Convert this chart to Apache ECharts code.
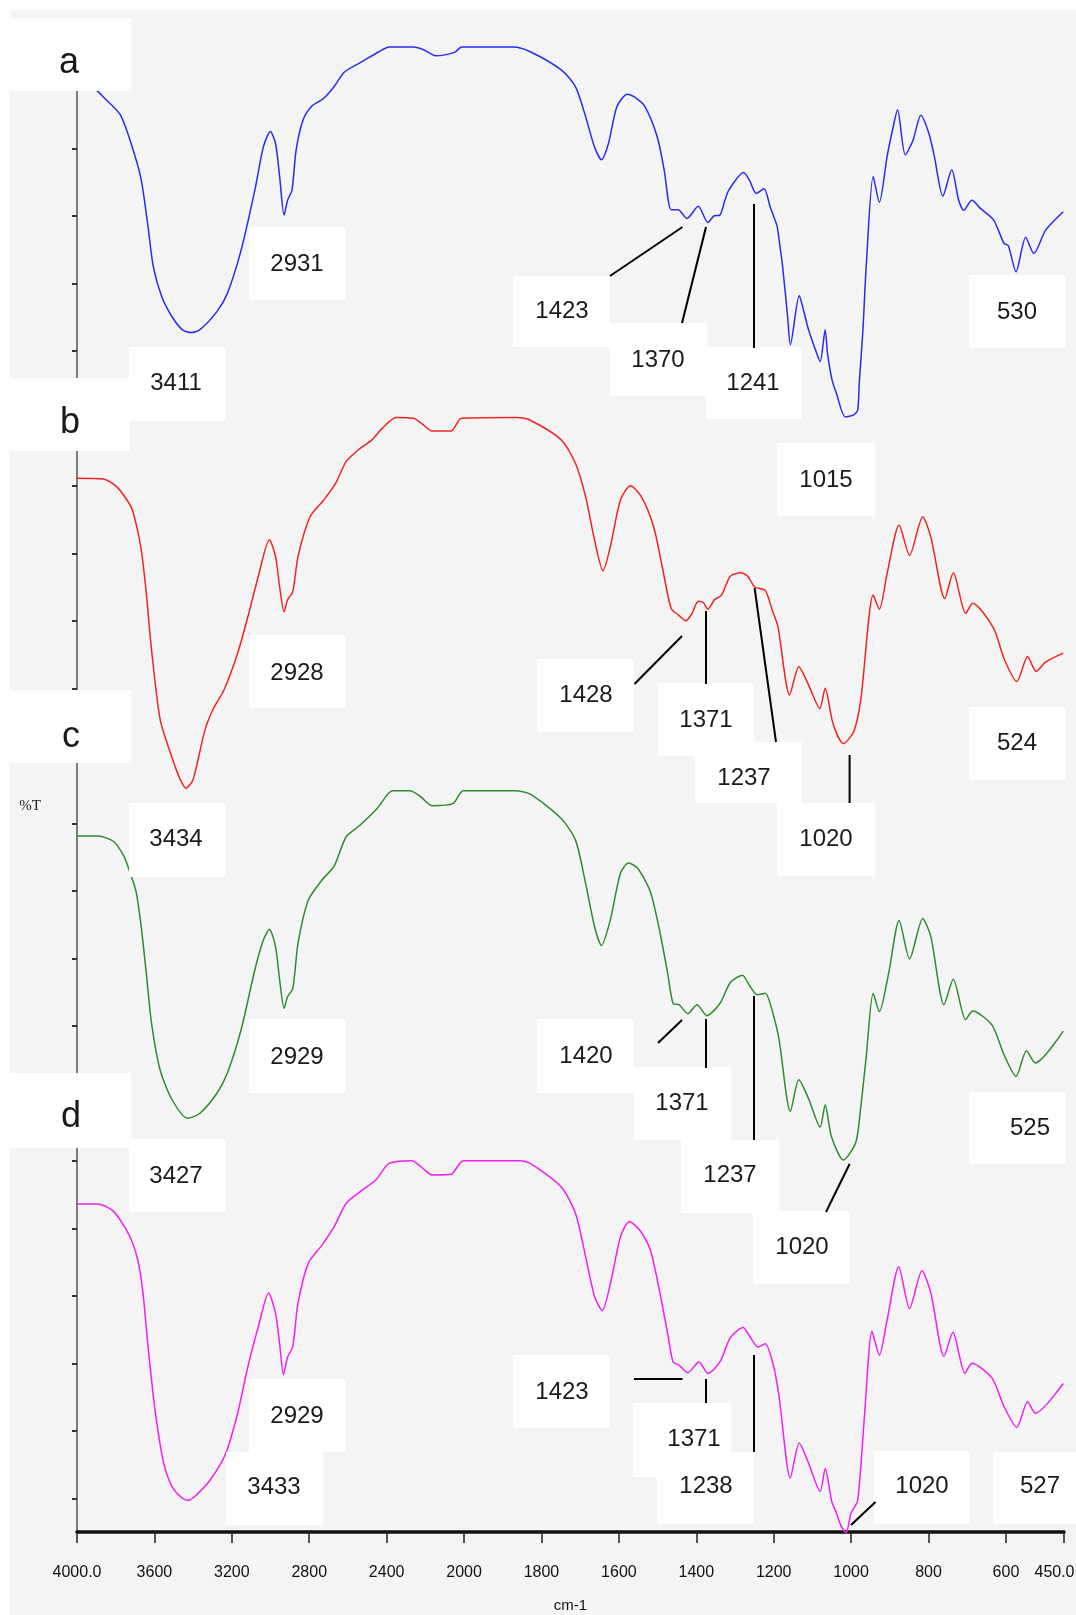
<!DOCTYPE html>
<html>
<head>
<meta charset="utf-8">
<script src="https://cdn.jsdelivr.net/npm/echarts@6/dist/echarts.min.js"></script>
<style>
html,body{margin:0;padding:0;background:#ffffff;}
#chart{width:1076px;height:1615px;}
</style>
</head>
<body>
<div id="chart"></div>
<script>
// ---------- DATA (wavenumber cm-1, %T) ----------
const xTickWavenumbers = [4000, 3600, 3200, 2800, 2400, 2000, 1800, 1600, 1400, 1200, 1000, 800, 600, 450];
const yTickValues = [0,10,20,30,40,50,60,70,80,90,100,110,120,130,140,150,160,170,180,190,200,210];
const seriesNames = ['a', 'b', 'c', 'd'];

const spectrumA = [[4000,50.8],[3950,49.5],[3900,48.6],[3864,47.6],[3775,44.9],[3704,39.2],[3668,35.3],[3633,28.4],[3606,22.5],[3562,18.0],[3508,15.0],[3455,13.1],[3410,12.7],[3366,13.1],[3277,15.8],[3223,18.5],[3152,24.9],[3081,33.8],[3037,40.2],[3001,42.5],[2974,40.7],[2953,35.8],[2930,30.1],[2912,32.3],[2889,33.8],[2868,39.7],[2832,44.2],[2788,46.2],[2725,47.4],[2672,49.1],[2618,51.3],[2529,52.8],[2440,54.3],[2387,55.0],[2262,55.0],[2209,54.6],[2147,53.7],[2049,54.2],[2013,55.0],[1873,55.0],[1829,54.3],[1749,51.6],[1712,49.1],[1686,44.7],[1663,40.2],[1645,38.3],[1627,40.7],[1605,46.2],[1578,48.0],[1560,47.6],[1533,46.2],[1501,41.7],[1483,36.8],[1465,30.9],[1447,30.9],[1424,29.6],[1395,31.4],[1370,29.0],[1354,30.0],[1339,30.1],[1326,32.3],[1316,33.8],[1278,36.4],[1263,35.3],[1245,33.3],[1225,34.0],[1209,31.3],[1200,29.9],[1191,28.4],[1186,26.4],[1177,22.5],[1164,15.0],[1157,10.9],[1134,18.2],[1123,16.0],[1110,13.1],[1092,10.1],[1080,8.4],[1067,13.1],[1061,9.6],[1049,5.6],[1038,3.7],[1015,0.2],[993,0.5],[983,1.2],[979,5.2],[970,12.6],[961,22.5],[943,35.8],[927,32.0],[907,38.8],[893,42.7],[880,45.7],[860,39.0],[840,41.2],[820,44.9],[799,42.2],[785,38.8],[763,32.9],[740,36.8],[722,32.3],[709,30.8],[688,32.3],[666,31.1],[632,29.4],[605,25.9],[594,25.6],[574,21.7],[549,26.8],[528,24.4],[497,27.9],[452,30.6]];

const spectrumB = [[4000,46.1],[3864,46.0],[3793,44.8],[3721,41.9],[3695,39.4],[3668,35.5],[3642,29.1],[3615,20.7],[3570,10.3],[3517,5.4],[3473,1.9],[3437,0.2],[3401,1.4],[3339,8.8],[3295,12.0],[3241,14.7],[3170,20.2],[3117,25.6],[3063,31.6],[3006,37.0],[2974,34.5],[2953,30.0],[2930,26.3],[2912,28.1],[2885,29.3],[2858,34.5],[2796,40.4],[2725,42.9],[2663,45.4],[2609,48.6],[2547,50.3],[2476,51.8],[2423,53.5],[2351,55.1],[2262,55.0],[2218,54.2],[2164,53.1],[2067,53.1],[2013,55.0],[1864,55.1],[1829,54.7],[1749,51.8],[1712,48.3],[1686,43.4],[1663,37.0],[1641,32.4],[1622,36.0],[1596,42.9],[1570,45.0],[1542,43.4],[1510,38.9],[1488,33.0],[1465,26.8],[1447,25.9],[1427,25.0],[1411,26.1],[1395,27.9],[1382,27.7],[1370,26.7],[1353,28.1],[1335,28.8],[1312,31.6],[1285,32.1],[1267,31.6],[1249,30.0],[1222,29.5],[1204,26.6],[1189,24.1],[1159,14.0],[1135,18.2],[1110,15.5],[1081,12.0],[1067,15.0],[1047,9.8],[1020,6.8],[993,8.6],[975,13.3],[943,28.8],[927,26.7],[907,32.0],[876,39.2],[849,34.7],[815,40.4],[794,37.4],[758,28.3],[736,32.1],[704,26.1],[686,27.6],[632,23.9],[605,19.4],[572,16.0],[544,19.7],[522,17.5],[497,18.9],[452,20.2]];

const spectrumC = [[4000,48.1],[3891,48.1],[3811,47.3],[3757,45.1],[3731,43.1],[3695,39.9],[3668,34.6],[3642,27.8],[3615,20.4],[3570,13.4],[3508,9.0],[3428,6.3],[3366,7.0],[3277,10.0],[3223,13.0],[3152,19.4],[3081,28.3],[3037,32.7],[3006,34.3],[2974,31.7],[2953,26.8],[2930,22.6],[2912,24.3],[2885,25.5],[2858,32.2],[2805,38.6],[2734,41.6],[2672,43.6],[2609,48.0],[2538,49.7],[2449,52.2],[2369,54.8],[2280,54.8],[2227,54.0],[2164,52.6],[2058,52.9],[2004,54.8],[1869,54.8],[1829,54.3],[1749,50.7],[1712,47.5],[1686,41.1],[1663,34.7],[1645,31.9],[1622,35.7],[1596,42.6],[1575,44.1],[1551,43.3],[1519,39.9],[1497,34.7],[1474,27.8],[1460,23.3],[1444,23.1],[1422,21.8],[1398,23.1],[1373,21.5],[1339,23.3],[1312,26.4],[1281,27.5],[1263,26.0],[1243,24.6],[1222,24.8],[1200,21.4],[1186,17.9],[1157,7.3],[1135,12.0],[1110,9.2],[1080,5.0],[1067,8.3],[1051,3.6],[1020,0.1],[988,2.7],[975,8.0],[961,15.4],[943,24.8],[927,22.1],[903,27.8],[876,35.6],[849,29.9],[815,35.9],[794,33.2],[760,23.1],[736,26.9],[704,20.9],[686,22.2],[636,20.1],[605,15.7],[574,12.5],[547,16.3],[524,14.5],[452,19.2]];

const spectrumD = [[4000,48.6],[3891,48.6],[3811,47.5],[3731,44.0],[3686,40.3],[3659,35.4],[3633,27.5],[3597,18.1],[3552,10.2],[3508,6.7],[3455,5.0],[3423,4.7],[3383,5.5],[3312,7.7],[3232,11.6],[3170,17.6],[3117,24.5],[3063,30.4],[3010,35.4],[2974,32.4],[2953,27.9],[2933,23.3],[2912,25.9],[2885,27.5],[2858,33.9],[2805,39.8],[2734,42.5],[2672,45.2],[2609,48.7],[2538,50.4],[2458,52.1],[2387,54.6],[2271,55.0],[2218,54.0],[2164,52.9],[2067,53.0],[2004,55.0],[1855,55.0],[1829,54.6],[1749,51.1],[1712,47.2],[1686,40.8],[1663,34.9],[1643,32.8],[1620,37.3],[1596,43.7],[1573,46.0],[1546,44.7],[1519,41.8],[1497,36.3],[1474,29.4],[1460,25.2],[1444,24.7],[1422,23.6],[1393,25.2],[1370,23.5],[1339,25.2],[1312,28.8],[1279,30.3],[1261,28.9],[1240,27.4],[1222,27.9],[1200,24.5],[1186,20.0],[1157,8.0],[1134,13.2],[1110,10.2],[1080,6.0],[1067,9.4],[1050,4.5],[1038,2.8],[1025,0.8],[1013,-0.1],[1000,2.8],[983,4.7],[965,17.6],[946,29.7],[927,26.2],[907,31.4],[877,39.3],[849,33.1],[817,38.7],[794,35.4],[760,26.0],[737,29.6],[706,23.5],[688,25.0],[636,22.8],[605,18.6],[572,15.5],[544,19.3],[524,17.6],[452,22.0]];

// ---------- LAYOUT / STYLE ----------
const panelOffsets = [160, 105, 50, -5];          // vertical stacking of the four traces
const lineColors = ['#2a2af0', '#f02424', '#2e8b2e', '#f020f0'];
const tickFont = '"Liberation Sans Narrow", "Liberation Sans", sans-serif';
const tickFontSize = 16;

// x axis: 4000-2000 at 1x, 2000-450 expanded 2x (like the instrument plot)
function toAxis(w) { return w >= 2000 ? 4000 - w : 2000 + 2 * (2000 - w); }
function fromAxis(u) { return u <= 2000 ? 4000 - u : 2000 - (u - 2000) / 2; }
function fmtTick(v) { const w = Math.round(fromAxis(v)); return (w === 4000 || w === 450) ? w.toFixed(1) : String(w); }

// keep the last tick label inside the canvas (shift it left by padding on its right side)
const measureCtx = document.createElement('canvas').getContext('2d');
measureCtx.font = tickFontSize + 'px ' + tickFont;
const lastLabelWidth = measureCtx.measureText('450.0').width;
const lastLabelPad = Math.max(0, Math.ceil(2 * (1064 + lastLabelWidth / 2 - 1075)));

const spectra = [spectrumA, spectrumB, spectrumC, spectrumD];

// annotation boxes: [text, x1, y1, x2, y2, textX, textY, fontSize]
const annotationBoxes = [
  ['a', 10, 18, 131, 91, 69, 63, 36],
  ['2931', 249, 227, 346, 300, 297, 264, 24],
  ['3411', 129, 347, 226, 421, 176, 383, 24],
  ['1423', 513, 276, 610, 347, 562, 311, 24],
  ['1370', 610, 323, 707, 396, 658, 360, 24],
  ['1241', 706, 347, 802, 419, 753, 383, 24],
  ['530', 969, 275, 1066, 348, 1017, 312, 24],
  ['1015', 777, 443, 875, 516, 826, 480, 24],
  ['b', 10, 378, 130, 451, 70, 423, 36],
  ['2928', 249, 635, 346, 708, 297, 673, 24],
  ['3434', 129, 803, 226, 877, 176, 839, 24],
  ['1428', 537, 659, 634, 732, 586, 695, 24],
  ['1371', 658, 683, 754, 756, 706, 720, 24],
  ['1237', 695, 742, 802, 803, 744, 778, 24],
  ['1020', 777, 803, 875, 876, 826, 839, 24],
  ['524', 969, 707, 1066, 780, 1017, 743, 24],
  ['c', 10, 690, 131, 763, 71, 737, 36],
  ['2929', 249, 1019, 346, 1093, 297, 1057, 24],
  ['3427', 129, 1139, 226, 1212, 176, 1176, 24],
  ['1420', 537, 1019, 634, 1093, 586, 1056, 24],
  ['1371', 634, 1067, 731, 1140, 682, 1103, 24],
  ['1237', 681, 1140, 779, 1213, 730, 1175, 24],
  ['1020', 753, 1211, 850, 1284, 802, 1247, 24],
  ['525', 969, 1092, 1066, 1164, 1030, 1128, 24],
  ['d', 10, 1073, 131, 1148, 71, 1117, 36],
  ['2929', 249, 1379, 346, 1452, 297, 1416, 24],
  ['3433', 226, 1452, 323, 1525, 274, 1487, 24],
  ['1423', 513, 1355, 610, 1428, 562, 1392, 24],
  ['1371', 633, 1403, 731, 1477, 694, 1439, 24],
  ['1238', 657, 1452, 754, 1524, 706, 1486, 24],
  ['1020', 874, 1451, 970, 1524, 922, 1486, 24],
  ['527', 993, 1452, 1076, 1524, 1040, 1486, 24]
];
const leaderLines = [
  [610, 276, 682.5, 227], [682, 323, 706, 227], [754, 204, 754, 348],
  [634.5, 684, 682, 636], [706, 611, 706, 684], [754.6, 588, 776, 742], [849.6, 755, 849.6, 803],
  [658, 1043, 682, 1020], [706, 1019, 706, 1068], [754, 996, 754, 1140], [826, 1212, 849.6, 1164],
  [634, 1379, 682.5, 1379], [706, 1379, 706, 1403], [754, 1355, 754, 1452], [875.5, 1502, 851, 1525]
];

const graphicElements = [
  { type: 'rect', silent: true, z: -10, shape: { x: 10, y: 10, width: 1066, height: 1605 }, style: { fill: '#f4f4f4' } }
];
annotationBoxes.forEach(b => {
  graphicElements.push({ type: 'rect', silent: true, z: 50, shape: { x: b[1], y: b[2], width: b[3] - b[1], height: b[4] - b[2] }, style: { fill: '#ffffff' } });
  graphicElements.push({ type: 'text', silent: true, z: 51, style: { text: b[0], x: b[5], y: b[6], fill: '#1a1a1a', font: b[7] + 'px "Liberation Sans", Arial, sans-serif', align: 'center', verticalAlign: 'middle' } });
});
leaderLines.forEach(l => {
  graphicElements.push({ type: 'line', silent: true, z: 52, shape: { x1: l[0], y1: l[1], x2: l[2], y2: l[3] }, style: { stroke: '#000000', lineWidth: 2 } });
});

const chart = echarts.init(document.getElementById('chart'), null, { renderer: 'canvas' });
chart.setOption({
  animation: false,
  backgroundColor: '#ffffff',
  grid: { left: 77, right: 12, top: 80.75, bottom: 83, containLabel: false, outerBoundsMode: 'none' },
  xAxis: {
    type: 'value', min: 0, max: 5100, interval: 400,
    name: 'cm-1', nameLocation: 'middle', nameGap: 66,
    nameTextStyle: { fontFamily: tickFont, fontSize: 15, color: '#111' },
    axisLine: { onZero: false, lineStyle: { color: '#111', width: 3.5 } },
    axisTick: { show: true, length: 11, lineStyle: { color: '#222', width: 1.5 }, customValues: xTickWavenumbers.map(toAxis) },
    axisLabel: {
      margin: 33, fontSize: tickFontSize, color: '#111',
      fontFamily: tickFont,
      customValues: xTickWavenumbers.map(toAxis),
      formatter: function (v) {
        const s = fmtTick(v);
        return s === '450.0' ? '{last|' + s + '}' : s;
      },
      rich: { last: { fontSize: tickFontSize, fontFamily: tickFont, color: '#111', padding: [0, lastLabelPad, 0, 0] } }
    },
    splitLine: { show: false }
  },
  yAxis: {
    type: 'value', min: -5, max: 210,
    name: '%T', nameLocation: 'middle', nameRotate: 0, nameGap: 36,
    nameTextStyle: { fontFamily: '"Liberation Serif", serif', fontSize: 15, color: '#222' },
    axisLine: { show: true, lineStyle: { color: '#555', width: 1.5 } },
    axisTick: { show: true, length: 5, lineStyle: { color: '#333', width: 2 }, customValues: yTickValues },
    axisLabel: { show: false },
    splitLine: { show: false }
  },
  graphic: { elements: graphicElements },
  series: spectra.map((s, i) => ({
    name: seriesNames[i],
    type: 'line',
    data: s.map(p => [toAxis(p[0]), p[1] + panelOffsets[i]]),
    showSymbol: false, symbol: 'none', clip: false, silent: true,
    smooth: 0.25,
    lineStyle: { color: lineColors[i], width: 1.5 },
    z: 2
  }))
});
</script>
</body>
</html>
